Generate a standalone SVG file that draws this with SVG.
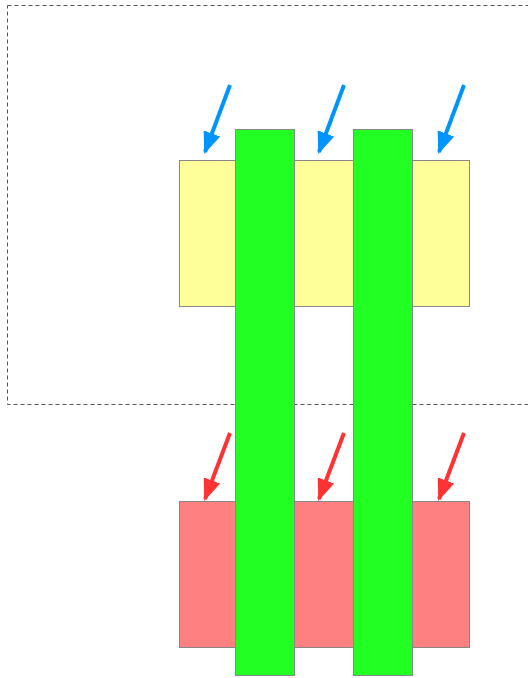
<svg xmlns="http://www.w3.org/2000/svg" width="528" height="678" viewBox="0 0 528 678">
  <style>
    .frame { fill: none; stroke: #555; stroke-width: 1; stroke-dasharray: 4 3; }
    .plate { stroke: #888; stroke-width: 1; }
    .top { fill: #ffff99; }
    .bottom { fill: #ff8080; }
    .bar { fill: #22ff22; stroke: #888; stroke-width: 1; }
    .blue { stroke: #0094ff; stroke-width: 4; fill: none; }
    .red { stroke: #ff3333; stroke-width: 4; fill: none; }
  </style>
  <defs>
    <marker id="headBlue" viewBox="0 0 10 10" refX="9" refY="5" markerWidth="5.5" markerHeight="4.4" markerUnits="strokeWidth" orient="auto" preserveAspectRatio="none">
      <path d="M0,0 L10,5 L0,10 Z" fill="#0094ff"/>
    </marker>
    <marker id="headRed" viewBox="0 0 10 10" refX="9" refY="5" markerWidth="5.5" markerHeight="4.4" markerUnits="strokeWidth" orient="auto" preserveAspectRatio="none">
      <path d="M0,0 L10,5 L0,10 Z" fill="#ff3333"/>
    </marker>
  </defs>

  <rect id="frame" class="frame" x="7.5" y="5.5" width="530" height="399"/>

  <g id="upper-plate">
    <rect class="plate top" x="179.5" y="160.5" width="290" height="146"/>
  </g>
  <g id="lower-plate">
    <rect class="plate bottom" x="179.5" y="501.5" width="290" height="146"/>
  </g>

  <g id="bar-left">
    <rect class="bar" x="235.5" y="129.5" width="59" height="546"/>
  </g>
  <g id="bar-right">
    <rect class="bar" x="353.5" y="129.5" width="59" height="546"/>
  </g>

  <g id="connectors">
    <line class="blue" x1="230" y1="85" x2="205" y2="152" marker-end="url(#headBlue)"/>
    <line class="blue" x1="344" y1="85" x2="319" y2="152" marker-end="url(#headBlue)"/>
    <line class="blue" x1="464" y1="85" x2="439" y2="152" marker-end="url(#headBlue)"/>
    <line class="red" x1="230" y1="433" x2="205" y2="499" marker-end="url(#headRed)"/>
    <line class="red" x1="344" y1="433" x2="319" y2="499" marker-end="url(#headRed)"/>
    <line class="red" x1="464" y1="433" x2="439" y2="499" marker-end="url(#headRed)"/>
  </g>
</svg>
